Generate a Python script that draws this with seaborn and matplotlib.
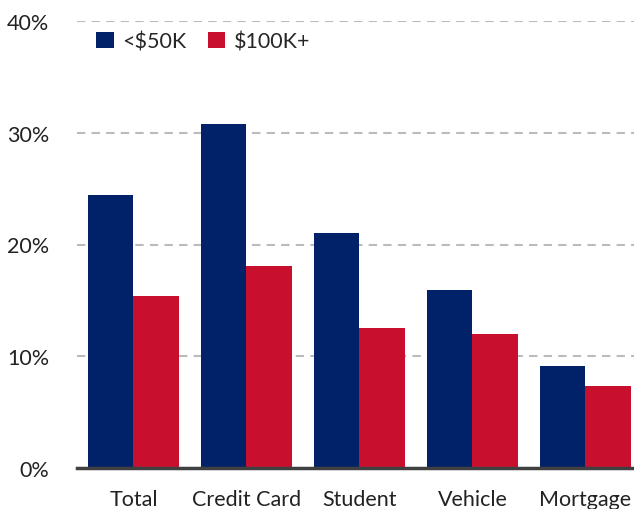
import pandas as pd
import matplotlib.pyplot as plt
import seaborn as sns

categorias = ['Total', 'Credit Card', 'Student', 'Vehicle', 'Mortgage']
bajo_50k = [24.4, 30.8, 21.0, 15.9, 9.1]
alto_100k = [15.4, 18.1, 12.5, 12.0, 7.3]
grupos = ['<$50K', '$100K+']
colores = ['#012169', '#C8102E']

datos = pd.DataFrame({
    'categoria': categorias * 2,
    'valor': bajo_50k + alto_100k,
    'grupo': [grupos[0]] * len(categorias) + [grupos[1]] * len(categorias),
})

sns.set_style('white')
plt.rcParams['font.family'] = ['Lato', 'DejaVu Sans']

fig = plt.figure(figsize=(6.34, 5.1), dpi=100)
ax = fig.add_axes([77 / 634, 41 / 510, 557 / 634, 447 / 510])

sns.barplot(data=datos, x='categoria', y='valor', hue='grupo', palette=colores,
            width=0.8, gap=0, saturation=1, linewidth=0, ax=ax, zorder=3)

ax.set_ylim(0, 40)
ax.set_xlim(-0.5, 4.43)
ax.set_yticks([0, 10, 20, 30, 40])
ax.set_yticklabels(['0%', '10%', '20%', '30%', '40%'])
ax.yaxis.grid(True, linestyle=(0, (4, 3)), color='#bbbbbb', linewidth=1.5, zorder=0)
ax.set_xlabel('')
ax.set_ylabel('')
for lado in ['top', 'right', 'left']:
    ax.spines[lado].set_visible(False)
ax.spines['bottom'].set_color('#404040')
ax.spines['bottom'].set_linewidth(2.5)
ax.spines['bottom'].set_zorder(4)
ax.tick_params(axis='both', length=0, labelsize=15.5, colors='#222222')
ax.tick_params(axis='y', pad=20)
ax.tick_params(axis='x', pad=15)

ax.legend(loc='upper left', bbox_to_anchor=(0.0, 1.02), ncol=2, frameon=False,
          fontsize=15.5, handlelength=0.8, handleheight=0.8, handletextpad=0.4,
          columnspacing=1.0)

fig.savefig('out.png', dpi=100)
